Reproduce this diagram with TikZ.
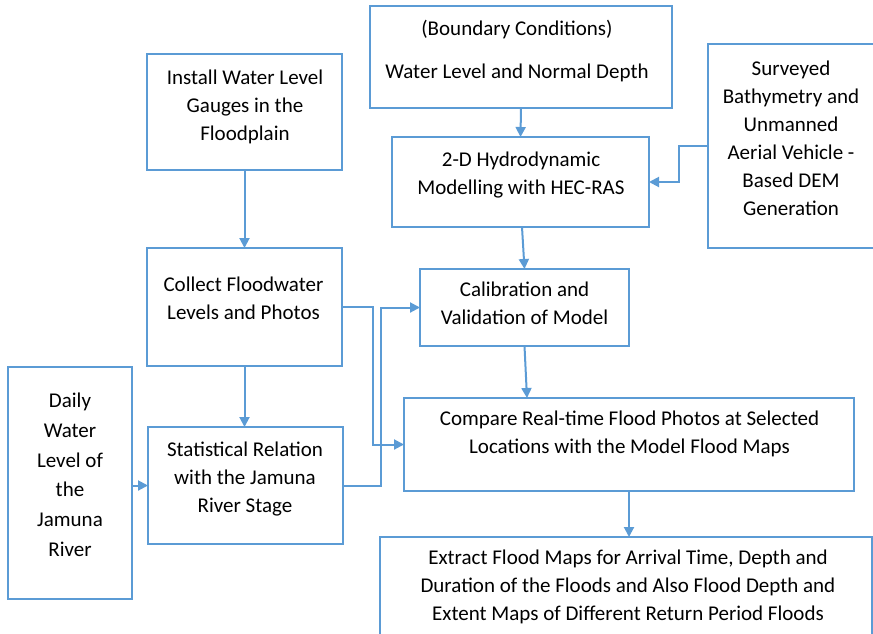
\documentclass[tikz,border=0pt]{standalone}
\usepackage{fontspec}
\setmainfont{Carlito}
\usetikzlibrary{arrows.meta}
\definecolor{flowblue}{HTML}{5B9BD5}
\tikzset{
  boxnode/.style={draw=flowblue, line width=2pt, rectangle, inner sep=0pt, outer sep=0pt, fill=none},
  txtnode/.style={align=center, inner sep=0pt, text=black, font=\fontsize{21}{28}\selectfont},
  arr/.style={draw=flowblue, line width=2pt, -{Triangle[length=10pt,width=10pt]}}
}
\begin{document}
\begin{tikzpicture}[x=1pt,y=-1pt]
\useasboundingbox (0,0) rectangle (873,633);
\clip (0,0) rectangle (873,633);
% boxes
\node[boxnode, minimum width=195pt, minimum height=116pt] (inst) at (244.5,112) {};
\node[boxnode, minimum width=302pt, minimum height=102pt] (bnd) at (521,56.5) {};
\node[boxnode, minimum width=182pt, minimum height=204pt] (surv) at (799,146) {};
\node[boxnode, minimum width=257pt, minimum height=90pt] (hec) at (520.5,182) {};
\node[boxnode, minimum width=195pt, minimum height=118pt] (col) at (244.5,307) {};
\node[boxnode, minimum width=209pt, minimum height=77pt] (calib) at (524.5,307.5) {};
\node[boxnode, minimum width=124pt, minimum height=232pt] (daily) at (70,483) {};
\node[boxnode, minimum width=195pt, minimum height=117pt] (stat) at (245.5,485.5) {};
\node[boxnode, minimum width=450pt, minimum height=93pt] (cmp) at (629,444.5) {};
\node[boxnode, minimum width=492pt, minimum height=123pt] (ext) at (626,598.5) {};
% texts
\node[txtnode] (instT) at (245,106.4) {\strut Install Water Level\\\strut Gauges in the\\\strut Floodplain};
\node[txtnode] (bndT) at (517,51) {\strut (Boundary Conditions)\\[15pt]\strut Water Level and Normal Depth};
\node[txtnode] (survT) at (791,139.4) {\strut Surveyed\\\strut Bathymetry and\\\strut Unmanned\\\strut Aerial Vehicle -\\\strut Based DEM\\\strut Generation};
\node[txtnode] (hecT) at (521,174.4) {\strut 2-D Hydrodynamic\\\strut Modelling with HEC-RAS};
\node[txtnode] (colT) at (243.5,300) {\strut Collect Floodwater\\\strut Levels and Photos};
\node[txtnode] (calibT) at (524.5,305) {\strut Calibration and\\\strut Validation of Model};
\node[txtnode, font=\fontsize{21}{29.8}\selectfont] (dailyT) at (70,476) {\strut Daily\\\strut Water\\\strut Level of\\\strut the\\\strut Jamuna\\\strut River};
\node[txtnode] (statT) at (245,478.9) {\strut Statistical Relation\\\strut with the Jamuna\\\strut River Stage};
\node[txtnode] (cmpT) at (629.5,434) {\strut Compare Real-time Flood Photos at Selected\\\strut Locations with the Model Flood Maps};
\node[txtnode] (extT) at (628,587) {\strut Extract Flood Maps for Arrival Time, Depth and\\\strut Duration of the Floods and Also Flood Depth and\\\strut Extent Maps of Different Return Period Floods};
% connectors
\draw[arr] (inst.south) -- (col.north);
\draw[arr] (bnd.south) -- (hec.north);
\draw[arr] (surv.west) -- ++(-29,0) |- (hec.east);
\draw[arr] ([xshift=1.5pt]hec.south) -- (calib.north);
\draw[arr] (calib.south) -- ([xshift=-102pt]cmp.north);
\draw[arr] (col.south) -- (col.south |- stat.north);
\draw[arr] (col.east) -- ++(31,0) |- (cmp.west);
\draw[arr] (stat.east) -- ++(38,0) |- (calib.west);
\draw[arr] (daily.east |- stat.west) -- (stat.west);
\draw[arr] (cmp.south) -- (cmp.south |- ext.north);
\end{tikzpicture}
\end{document}
